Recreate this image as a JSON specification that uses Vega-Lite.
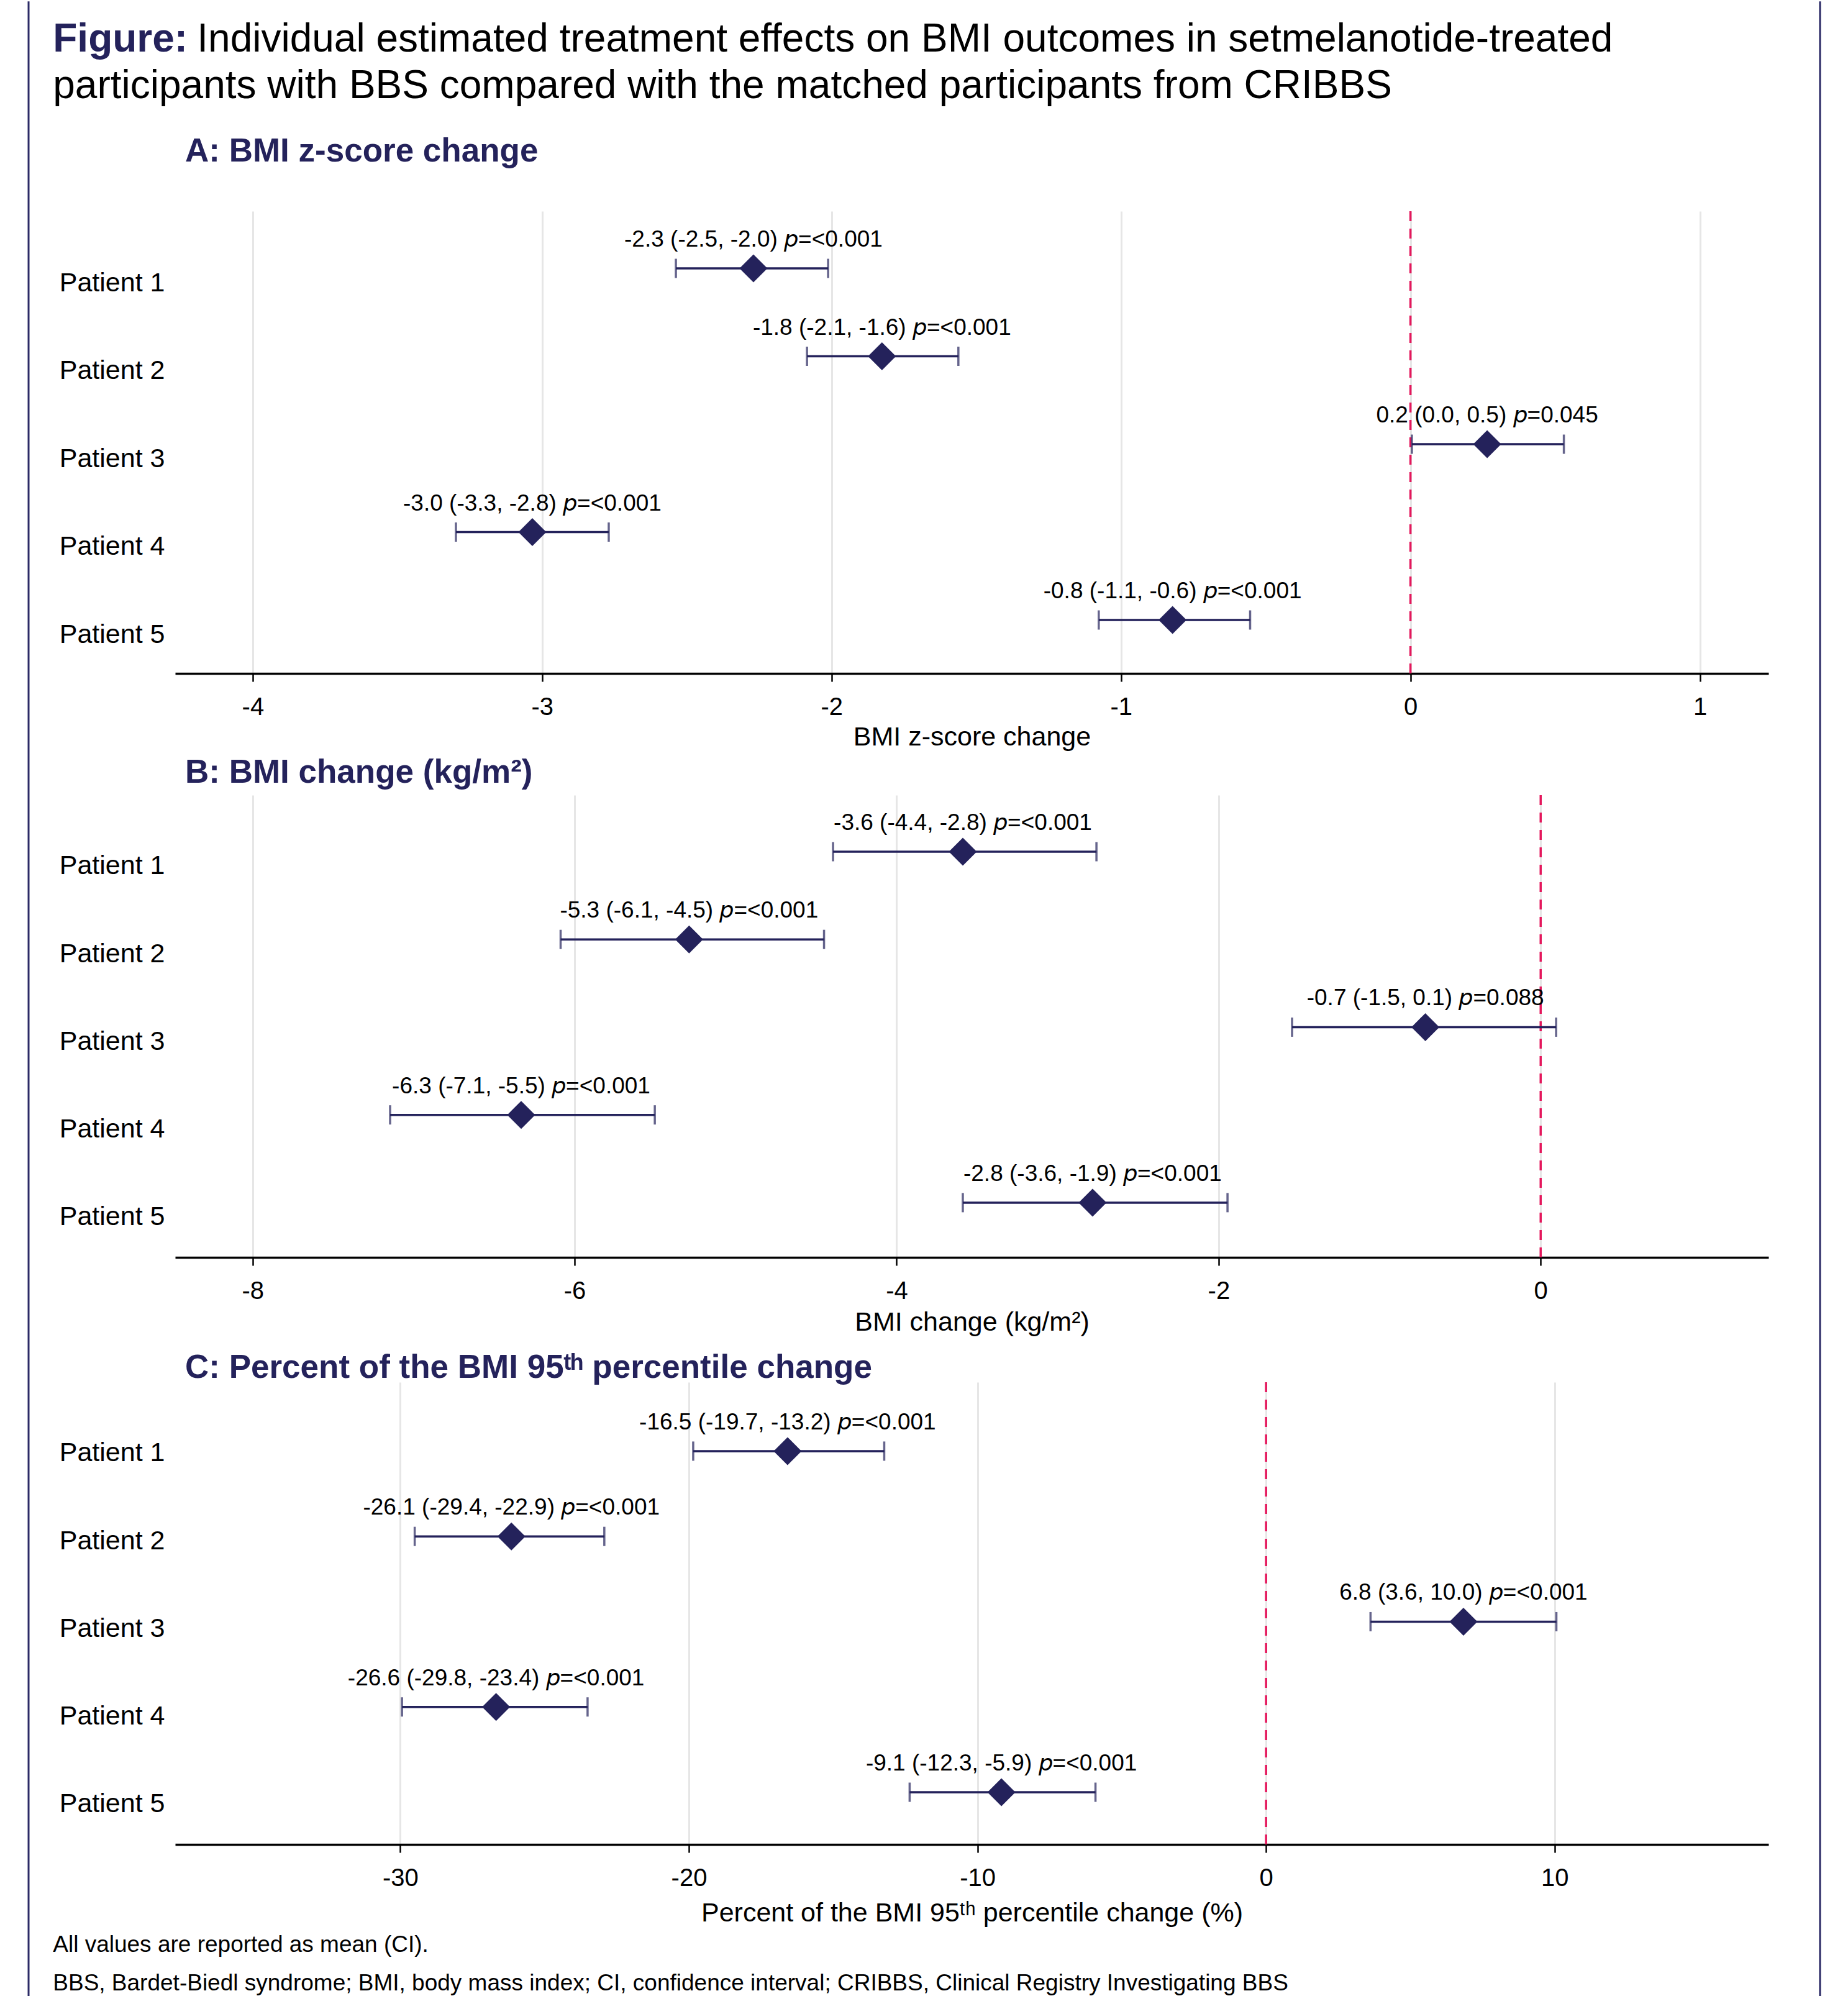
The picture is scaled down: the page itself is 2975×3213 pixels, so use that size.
{
  "$schema": "https://vega.github.io/schema/vega-lite/v6.json",
  "background": "white",
  "padding": {"left": 44, "top": 0, "right": 0, "bottom": 0},
  "datasets": {
    "A": [
      {"patient": "Patient 1", "est": -2.270, "lo": -2.538, "hi": -2.012, "label": "-2.3 (-2.5, -2.0) 𝘱=<0.001"},
      {"patient": "Patient 2", "est": -1.826, "lo": -2.085, "hi": -1.562, "label": "-1.8 (-2.1, -1.6) 𝘱=<0.001"},
      {"patient": "Patient 3", "est": 0.265, "lo": 0.005, "hi": 0.530, "label": "0.2 (0.0, 0.5) 𝘱=0.045"},
      {"patient": "Patient 4", "est": -3.034, "lo": -3.298, "hi": -2.770, "label": "-3.0 (-3.3, -2.8) 𝘱=<0.001"},
      {"patient": "Patient 5", "est": -0.822, "lo": -1.077, "hi": -0.554, "label": "-0.8 (-1.1, -0.6) 𝘱=<0.001"}
    ],
    "B": [
      {"patient": "Patient 1", "est": -3.589, "lo": -4.395, "hi": -2.759, "label": "-3.6 (-4.4, -2.8) 𝘱=<0.001"},
      {"patient": "Patient 2", "est": -5.289, "lo": -6.087, "hi": -4.451, "label": "-5.3 (-6.1, -4.5) 𝘱=<0.001"},
      {"patient": "Patient 3", "est": -0.716, "lo": -1.544, "hi": 0.096, "label": "-0.7 (-1.5, 0.1) 𝘱=0.088"},
      {"patient": "Patient 4", "est": -6.332, "lo": -7.146, "hi": -5.502, "label": "-6.3 (-7.1, -5.5) 𝘱=<0.001"},
      {"patient": "Patient 5", "est": -2.783, "lo": -3.589, "hi": -1.945, "label": "-2.8 (-3.6, -1.9) 𝘱=<0.001"}
    ],
    "C": [
      {"patient": "Patient 1", "est": -16.58, "lo": -19.85, "hi": -13.23, "label": "-16.5 (-19.7, -13.2) 𝘱=<0.001"},
      {"patient": "Patient 2", "est": -26.15, "lo": -29.50, "hi": -22.93, "label": "-26.1 (-29.4, -22.9) 𝘱=<0.001"},
      {"patient": "Patient 3", "est": 6.84, "lo": 3.62, "hi": 10.06, "label": "6.8 (3.6, 10.0) 𝘱=<0.001"},
      {"patient": "Patient 4", "est": -26.68, "lo": -29.94, "hi": -23.51, "label": "-26.6 (-29.8, -23.4) 𝘱=<0.001"},
      {"patient": "Patient 5", "est": -9.17, "lo": -12.35, "hi": -5.91, "label": "-9.1 (-12.3, -5.9) 𝘱=<0.001"}
    ]
  },
  "config": {
    "font": "Liberation Sans",
    "view": {"stroke": null},
    "axisX": {"domainColor": "#000000", "domainWidth": 3.5, "tickColor": "#000000", "tickWidth": 2.5, "tickSize": 13, "labelFontSize": 40, "labelColor": "#000000", "labelPadding": 21, "labelFlush": false, "titleFontSize": 43, "titleFontWeight": "normal", "titleColor": "#000000", "titlePadding": 9, "grid": true, "gridColor": "#E6E6E6", "gridWidth": 3},
    "axisY": {"domain": false, "ticks": false, "tickSize": 0, "grid": false, "labelFontSize": 43, "labelColor": "#000000", "labelPadding": 17},
    "title": {"anchor": "start", "frame": "group", "dx": 16, "fontSize": 53, "fontWeight": "bold", "color": "#24225B", "baseline": "top"}
  },
  "spacing": 37,
  "hconcat": [
    {
      "width": 1, "height": 2875,
      "data": {"values": [{}]},
      "mark": {"type": "rule", "color": "#2B2A66", "strokeWidth": 3},
      "encoding": {
        "x": {"datum": 0, "type": "quantitative", "scale": {"domain": [0, 1]}, "axis": null},
        "y": {"datum": 1.1175, "type": "quantitative", "scale": {"domain": [0, 1], "nice": false, "zero": false}, "axis": null},
        "y2": {"datum": 0}
      }
    },
    {
      "title": {"text": "Figure:", "fontSize": 64, "fontWeight": "bold", "color": "#24225B", "anchor": "start", "frame": "bounds", "dx": 0, "offset": -64, "baseline": "top"},
      "vconcat": [
        {
          "title": {"text": "Individual estimated treatment effects on BMI outcomes in setmelanotide-treated", "fontSize": 64, "fontWeight": "normal", "color": "#000000", "anchor": "start", "frame": "bounds", "dx": 232, "offset": 11, "baseline": "top"},
          "vconcat": [
            {
              "title": {"text": "participants with BBS compared with the matched participants from CRIBBS", "fontSize": 64, "fontWeight": "normal", "color": "#000000", "anchor": "start", "frame": "bounds", "dx": 0, "offset": 47, "baseline": "top"},
              "vconcat": [
                {
                  "title": {
                    "text": ["All values are reported as mean (CI).", "BBS, Bardet-Biedl syndrome; BMI, body mass index; CI, confidence interval; CRIBBS, Clinical Registry Investigating BBS"],
                    "orient": "bottom", "anchor": "start", "frame": "bounds", "dx": -10, "offset": 12, "fontSize": 37, "fontWeight": "normal", "color": "#000000", "lineHeight": 62, "baseline": "top"
                  },
                  "spacing": 10,
                  "vconcat": [
                    {
                      "width": 2565, "height": 744,
                      "data": {"name": "A"},
                      "title": {"text": "A: BMI z-score change", "offset": 67},
                      "layer": [
                        {"data": {"values": [{}]}, "mark": {"type": "rule", "color": "#E4175C", "strokeWidth": 3.5, "strokeDash": [16, 12]},
                         "encoding": {"x": {"datum": 0, "type": "quantitative", "scale": {"domain": [-4.268, 1.237], "nice": false, "zero": false}, "axis": {"title": "BMI z-score change", "titlePadding": 7, "values": [-4, -3, -2, -1, 0, 1], "labelExpr": "'' + datum.value"}}}},
                        {"mark": {"type": "rule", "color": "#24225B", "strokeWidth": 3.5},
                         "encoding": {"y": {"field": "patient", "type": "nominal", "sort": null, "title": null, "scale": {"type": "point", "padding": 0.629, "align": 0.517}, "axis": {"labelOffset": 23}},
                           "x": {"field": "lo", "type": "quantitative", "scale": {"domain": [-4.268, 1.237], "nice": false, "zero": false}, "axis": {"title": "BMI z-score change", "titlePadding": 7, "values": [-4, -3, -2, -1, 0, 1], "labelExpr": "'' + datum.value"}}, "x2": {"field": "hi"}}},
                        {"mark": {"type": "tick", "color": "#24225B", "thickness": 3.5, "size": 31},
                         "encoding": {"y": {"field": "patient", "type": "nominal", "sort": null, "title": null, "scale": {"type": "point", "padding": 0.629, "align": 0.517}, "axis": {"labelOffset": 23}},
                           "x": {"field": "lo", "type": "quantitative", "scale": {"domain": [-4.268, 1.237], "nice": false, "zero": false}, "axis": {"title": "BMI z-score change", "titlePadding": 7, "values": [-4, -3, -2, -1, 0, 1], "labelExpr": "'' + datum.value"}}}},
                        {"mark": {"type": "tick", "color": "#24225B", "thickness": 3.5, "size": 31},
                         "encoding": {"y": {"field": "patient", "type": "nominal", "sort": null, "title": null, "scale": {"type": "point", "padding": 0.629, "align": 0.517}, "axis": {"labelOffset": 23}},
                           "x": {"field": "hi", "type": "quantitative", "scale": {"domain": [-4.268, 1.237], "nice": false, "zero": false}, "axis": {"title": "BMI z-score change", "titlePadding": 7, "values": [-4, -3, -2, -1, 0, 1], "labelExpr": "'' + datum.value"}}}},
                        {"mark": {"type": "point", "shape": "diamond", "filled": true, "size": 2025, "color": "#24225B", "opacity": 1},
                         "encoding": {"y": {"field": "patient", "type": "nominal", "sort": null, "title": null, "scale": {"type": "point", "padding": 0.629, "align": 0.517}, "axis": {"labelOffset": 23}},
                           "x": {"field": "est", "type": "quantitative", "scale": {"domain": [-4.268, 1.237], "nice": false, "zero": false}, "axis": {"title": "BMI z-score change", "titlePadding": 7, "values": [-4, -3, -2, -1, 0, 1], "labelExpr": "'' + datum.value"}}}},
                        {"mark": {"type": "text", "dy": -35, "baseline": "alphabetic", "align": "center", "fontSize": 37, "color": "#000000"},
                         "encoding": {"y": {"field": "patient", "type": "nominal", "sort": null, "title": null, "scale": {"type": "point", "padding": 0.629, "align": 0.517}, "axis": {"labelOffset": 23}},
                           "x": {"field": "est", "type": "quantitative", "scale": {"domain": [-4.268, 1.237], "nice": false, "zero": false}, "axis": {"title": "BMI z-score change", "titlePadding": 7, "values": [-4, -3, -2, -1, 0, 1], "labelExpr": "'' + datum.value"}},
                           "text": {"field": "label"}}}
                      ]
                    },
                    {
                      "spacing": 26,
                      "vconcat": [
                        {
                          "width": 2565, "height": 744,
                          "data": {"name": "B"},
                          "title": {"text": "B: BMI change (kg/m²)", "offset": 7},
                          "layer": [
                            {"data": {"values": [{}]}, "mark": {"type": "rule", "color": "#E4175C", "strokeWidth": 3.5, "strokeDash": [16, 12]},
                             "encoding": {"x": {"datum": 0, "type": "quantitative", "scale": {"domain": [-8.481, 1.415], "nice": false, "zero": false}, "axis": {"title": "BMI change (kg/m²)", "values": [-8, -6, -4, -2, 0], "labelExpr": "'' + datum.value"}}}},
                            {"mark": {"type": "rule", "color": "#24225B", "strokeWidth": 3.5},
                             "encoding": {"y": {"field": "patient", "type": "nominal", "sort": null, "title": null, "scale": {"type": "point", "padding": 0.634, "align": 0.508}, "axis": {"labelOffset": 23}},
                               "x": {"field": "lo", "type": "quantitative", "scale": {"domain": [-8.481, 1.415], "nice": false, "zero": false}, "axis": {"title": "BMI change (kg/m²)", "values": [-8, -6, -4, -2, 0], "labelExpr": "'' + datum.value"}}, "x2": {"field": "hi"}}},
                            {"mark": {"type": "tick", "color": "#24225B", "thickness": 3.5, "size": 31},
                             "encoding": {"y": {"field": "patient", "type": "nominal", "sort": null, "title": null, "scale": {"type": "point", "padding": 0.634, "align": 0.508}, "axis": {"labelOffset": 23}},
                               "x": {"field": "lo", "type": "quantitative", "scale": {"domain": [-8.481, 1.415], "nice": false, "zero": false}, "axis": {"title": "BMI change (kg/m²)", "values": [-8, -6, -4, -2, 0], "labelExpr": "'' + datum.value"}}}},
                            {"mark": {"type": "tick", "color": "#24225B", "thickness": 3.5, "size": 31},
                             "encoding": {"y": {"field": "patient", "type": "nominal", "sort": null, "title": null, "scale": {"type": "point", "padding": 0.634, "align": 0.508}, "axis": {"labelOffset": 23}},
                               "x": {"field": "hi", "type": "quantitative", "scale": {"domain": [-8.481, 1.415], "nice": false, "zero": false}, "axis": {"title": "BMI change (kg/m²)", "values": [-8, -6, -4, -2, 0], "labelExpr": "'' + datum.value"}}}},
                            {"mark": {"type": "point", "shape": "diamond", "filled": true, "size": 2025, "color": "#24225B", "opacity": 1},
                             "encoding": {"y": {"field": "patient", "type": "nominal", "sort": null, "title": null, "scale": {"type": "point", "padding": 0.634, "align": 0.508}, "axis": {"labelOffset": 23}},
                               "x": {"field": "est", "type": "quantitative", "scale": {"domain": [-8.481, 1.415], "nice": false, "zero": false}, "axis": {"title": "BMI change (kg/m²)", "values": [-8, -6, -4, -2, 0], "labelExpr": "'' + datum.value"}}}},
                            {"mark": {"type": "text", "dy": -35, "baseline": "alphabetic", "align": "center", "fontSize": 37, "color": "#000000"},
                             "encoding": {"y": {"field": "patient", "type": "nominal", "sort": null, "title": null, "scale": {"type": "point", "padding": 0.634, "align": 0.508}, "axis": {"labelOffset": 23}},
                               "x": {"field": "est", "type": "quantitative", "scale": {"domain": [-8.481, 1.415], "nice": false, "zero": false}, "axis": {"title": "BMI change (kg/m²)", "values": [-8, -6, -4, -2, 0], "labelExpr": "'' + datum.value"}},
                               "text": {"field": "label"}}}
                          ]
                        },
                        {
                          "width": 2565, "height": 744,
                          "data": {"name": "C"},
                          "title": {"text": "C: Percent of the BMI 95ᵗʰ percentile change", "offset": -6},
                          "resolve": {"scale": {"y": "independent"}},
                          "layer": [
                            {"mark": {"type": "point", "opacity": 0},
                             "encoding": {"y": {"field": "patient", "type": "nominal", "sort": null, "title": null, "scale": {"type": "point", "padding": 0.634, "align": 0.631}, "axis": {"labelOffset": 1}}}},
                            {
                              "layer": [
                                {"data": {"values": [{}]}, "mark": {"type": "rule", "color": "#E4175C", "strokeWidth": 3.5, "strokeDash": [16, 12]},
                                 "encoding": {"x": {"datum": 0, "type": "quantitative", "scale": {"domain": [-37.8, 17.41], "nice": false, "zero": false}, "axis": {"title": "Percent of the BMI 95ᵗʰ percentile change (%)", "titlePadding": 15, "values": [-30, -20, -10, 0, 10], "labelExpr": "'' + datum.value"}}}},
                                {"mark": {"type": "rule", "color": "#24225B", "strokeWidth": 3.5},
                                 "encoding": {"y": {"field": "patient", "type": "nominal", "sort": null, "title": null, "scale": {"type": "point", "padding": 0.71, "align": 0.569}, "axis": null},
                                   "x": {"field": "lo", "type": "quantitative", "scale": {"domain": [-37.8, 17.41], "nice": false, "zero": false}, "axis": {"title": "Percent of the BMI 95ᵗʰ percentile change (%)", "titlePadding": 15, "values": [-30, -20, -10, 0, 10], "labelExpr": "'' + datum.value"}}, "x2": {"field": "hi"}}},
                                {"mark": {"type": "tick", "color": "#24225B", "thickness": 3.5, "size": 31},
                                 "encoding": {"y": {"field": "patient", "type": "nominal", "sort": null, "title": null, "scale": {"type": "point", "padding": 0.71, "align": 0.569}, "axis": null},
                                   "x": {"field": "lo", "type": "quantitative", "scale": {"domain": [-37.8, 17.41], "nice": false, "zero": false}, "axis": {"title": "Percent of the BMI 95ᵗʰ percentile change (%)", "titlePadding": 15, "values": [-30, -20, -10, 0, 10], "labelExpr": "'' + datum.value"}}}},
                                {"mark": {"type": "tick", "color": "#24225B", "thickness": 3.5, "size": 31},
                                 "encoding": {"y": {"field": "patient", "type": "nominal", "sort": null, "title": null, "scale": {"type": "point", "padding": 0.71, "align": 0.569}, "axis": null},
                                   "x": {"field": "hi", "type": "quantitative", "scale": {"domain": [-37.8, 17.41], "nice": false, "zero": false}, "axis": {"title": "Percent of the BMI 95ᵗʰ percentile change (%)", "titlePadding": 15, "values": [-30, -20, -10, 0, 10], "labelExpr": "'' + datum.value"}}}},
                                {"mark": {"type": "point", "shape": "diamond", "filled": true, "size": 2025, "color": "#24225B", "opacity": 1},
                                 "encoding": {"y": {"field": "patient", "type": "nominal", "sort": null, "title": null, "scale": {"type": "point", "padding": 0.71, "align": 0.569}, "axis": null},
                                   "x": {"field": "est", "type": "quantitative", "scale": {"domain": [-37.8, 17.41], "nice": false, "zero": false}, "axis": {"title": "Percent of the BMI 95ᵗʰ percentile change (%)", "titlePadding": 15, "values": [-30, -20, -10, 0, 10], "labelExpr": "'' + datum.value"}}}},
                                {"mark": {"type": "text", "dy": -35, "baseline": "alphabetic", "align": "center", "fontSize": 37, "color": "#000000"},
                                 "encoding": {"y": {"field": "patient", "type": "nominal", "sort": null, "title": null, "scale": {"type": "point", "padding": 0.71, "align": 0.569}, "axis": null},
                                   "x": {"field": "est", "type": "quantitative", "scale": {"domain": [-37.8, 17.41], "nice": false, "zero": false}, "axis": {"title": "Percent of the BMI 95ᵗʰ percentile change (%)", "titlePadding": 15, "values": [-30, -20, -10, 0, 10], "labelExpr": "'' + datum.value"}},
                                   "text": {"field": "label"}}}
                              ]
                            }
                          ]
                        }
                      ]
                    }
                  ]
                }
              ]
            }
          ]
        }
      ]
    },
    {
      "width": 46, "height": 2875,
      "data": {"values": [{}]},
      "mark": {"type": "rule", "color": "#2B2A66", "strokeWidth": 3},
      "encoding": {
        "x": {"datum": 1, "type": "quantitative", "scale": {"domain": [0, 1]}, "axis": null},
        "y": {"datum": 1.1175, "type": "quantitative", "scale": {"domain": [0, 1], "nice": false, "zero": false}, "axis": null},
        "y2": {"datum": 0}
      }
    }
  ]
}
